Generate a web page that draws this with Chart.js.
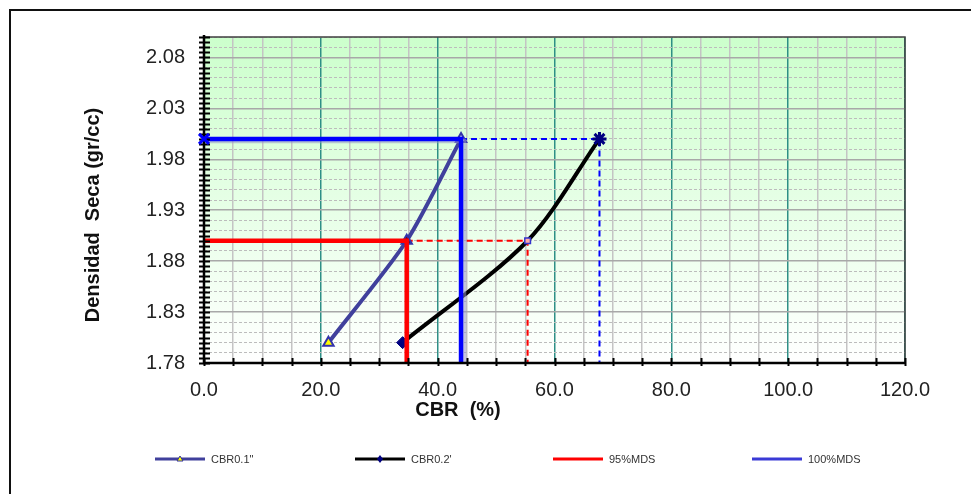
<!DOCTYPE html>
<html>
<head>
<meta charset="utf-8">
<script src="https://cdn.jsdelivr.net/npm/chart.js@4.4.1/dist/chart.umd.min.js"></script>
<style>
  html, body { margin: 0; padding: 0; background: #fff; }
  #wrap { width: 971px; height: 494px; position: relative; }
</style>
</head>
<body>
<div id="wrap"><canvas id="cbrChart" width="971" height="494"></canvas></div>
<script>
// CBR vs dry density, per penetration
const cbr01 = [21.3, 34.7, 44.0];
const dens01 = [1.80, 1.90, 2.00];
const cbr02 = [34.0, 55.4, 67.7];
const dens02 = [1.80, 1.90, 2.00];

// MDS levels and the CBR read at each
const mds100 = 2.00;
const mds95 = 1.90;
const cbrAt100 = [44.0, 67.7];   // 0.1" , 0.2"
const cbrAt95 = [34.7, 55.4];

const yMin = 1.78, yMax = 2.10;
const xMin = 0, xMax = 120;
const xLabelStep = 20;

const FONT = "'Liberation Sans', Arial, sans-serif";

const pts = (xs, ys) => xs.map((x, i) => ({ x, y: ys[i] }));
const isMajorY = v => Math.round((v - yMin) * 100) % 5 === 0;

// background gradient, frame, axis tick marks, titles and legend
const decor = {
  id: "decor",
  beforeDraw(chart) {
    const { ctx, chartArea: a } = chart;
    const g = ctx.createLinearGradient(0, a.top, 0, a.bottom);
    g.addColorStop(0, "#ccffcc");
    g.addColorStop(1, "#ffffff");
    ctx.save();
    ctx.fillStyle = g;
    ctx.fillRect(a.left, a.top, a.right - a.left, a.bottom - a.top);
    ctx.restore();
  },
  beforeDatasetDraw(chart, args) {
    const ds = chart.data.datasets[args.index];
    if (ds.shadow) {
      chart.ctx.shadowColor = "rgba(150,150,200,0.55)";
      chart.ctx.shadowOffsetX = 3;
      chart.ctx.shadowOffsetY = 2;
      chart.ctx.shadowBlur = 0;
    }
  },
  afterDatasetDraw(chart) {
    chart.ctx.shadowColor = "rgba(0,0,0,0)";
    chart.ctx.shadowOffsetX = 0;
    chart.ctx.shadowOffsetY = 0;
  },
  afterDraw(chart) {
    const { ctx, chartArea: a, scales: { x, y } } = chart;
    ctx.save();

    // plot border top/right
    ctx.strokeStyle = "#404040";
    ctx.lineWidth = 1.5;
    ctx.beginPath();
    ctx.moveTo(a.left, a.top);
    ctx.lineTo(a.right, a.top);
    ctx.lineTo(a.right, a.bottom);
    ctx.stroke();

    // axes
    ctx.strokeStyle = "#000";
    ctx.lineWidth = 2.5;
    ctx.beginPath();
    ctx.moveTo(a.left, a.top - 2);
    ctx.lineTo(a.left, a.bottom);
    ctx.lineTo(a.right, a.bottom);
    ctx.stroke();

    // cross tick marks
    ctx.lineWidth = 2;
    ctx.beginPath();
    for (let i = 0; i <= Math.round((yMax - yMin) / 0.005); i++) {
      const py = Math.round(y.getPixelForValue(yMin + i * 0.005)) + 0.5;
      ctx.moveTo(a.left - 5, py);
      ctx.lineTo(a.left + 6, py);
    }
    for (let v = xMin; v <= xMax; v += 5) {
      const px = Math.round(x.getPixelForValue(v)) + 0.5;
      ctx.moveTo(px, a.bottom - 5);
      ctx.lineTo(px, a.bottom + 3);
    }
    ctx.stroke();

    // the 100% marker sits on the axis
    const m = chart.getDatasetMeta(0).data[0];
    ctx.strokeStyle = "#0000ff";
    ctx.lineWidth = 3;
    ctx.beginPath();
    ctx.moveTo(m.x - 5, m.y - 5);
    ctx.lineTo(m.x + 5, m.y + 5);
    ctx.moveTo(m.x - 5, m.y + 5);
    ctx.lineTo(m.x + 5, m.y - 5);
    ctx.stroke();

    // axis titles
    ctx.fillStyle = "#111";
    ctx.font = "bold 20px " + FONT;
    ctx.textAlign = "center";
    ctx.textBaseline = "middle";
    ctx.fillText("CBR  (%)", 458, 410);
    ctx.save();
    ctx.translate(93, 215);
    ctx.rotate(-Math.PI / 2);
    ctx.fillText("Densidad  Seca (gr/cc)", 0, 0);
    ctx.restore();

    // legend
    const items = [
      { text: 'CBR0.1"', color: "#40409c", x: 155, marker: "tri" },
      { text: "CBR0.2'", color: "#000000", x: 355, marker: "dia" },
      { text: "95%MDS", color: "#ff0000", x: 553 },
      { text: "100%MDS", color: "#3a3ad6", x: 752 }
    ];
    const ly = 459;
    ctx.font = "11px " + FONT;
    ctx.textAlign = "left";
    items.forEach(it => {
      ctx.strokeStyle = it.color;
      ctx.lineWidth = 3;
      ctx.beginPath();
      ctx.moveTo(it.x, ly);
      ctx.lineTo(it.x + 50, ly);
      ctx.stroke();
      const mx = it.x + 25;
      if (it.marker === "tri") {
        ctx.fillStyle = "#ffff00";
        ctx.strokeStyle = "#333399";
        ctx.lineWidth = 1;
        ctx.beginPath();
        ctx.moveTo(mx, ly - 3);
        ctx.lineTo(mx + 3, ly + 2);
        ctx.lineTo(mx - 3, ly + 2);
        ctx.closePath();
        ctx.fill();
        ctx.stroke();
      } else if (it.marker === "dia") {
        ctx.fillStyle = "#000080";
        ctx.beginPath();
        ctx.moveTo(mx, ly - 4);
        ctx.lineTo(mx + 3, ly);
        ctx.lineTo(mx, ly + 4);
        ctx.lineTo(mx - 3, ly);
        ctx.closePath();
        ctx.fill();
      }
      ctx.fillStyle = "#333";
      ctx.fillText(it.text, it.x + 56, ly + 1);
    });

    // outer frame
    ctx.strokeStyle = "#111";
    ctx.lineWidth = 2;
    ctx.beginPath();
    ctx.moveTo(971, 10);
    ctx.lineTo(10, 10);
    ctx.lineTo(10, 494);
    ctx.stroke();

    ctx.restore();
  }
};

const datasets = [
  {
    label: "100%MDS",
    data: [{ x: xMin, y: mds100 }, { x: cbrAt100[0], y: mds100 }, { x: cbrAt100[0], y: yMin }],
    borderColor: "#0000ff",
    borderWidth: 4.5,
    borderJoinStyle: "miter",
    pointRadius: 0,
    shadow: true
  },
  {
    label: "95%MDS",
    data: [{ x: xMin, y: mds95 }, { x: cbrAt95[0], y: mds95 }, { x: cbrAt95[0], y: yMin }],
    borderColor: "#ff0000",
    borderWidth: 4.5,
    borderJoinStyle: "miter",
    pointRadius: 0
  },
  {
    label: 'CBR0.1"',
    data: pts(cbr01, dens01),
    borderColor: "#40409c",
    borderWidth: 4,
    tension: 0.25,
    pointStyle: "triangle",
    pointRadius: 6,
    pointBackgroundColor: ["#ffff00", "#800000", "#c8c8f0"],
    pointBorderColor: "#3333aa",
    pointBorderWidth: 2
  },
  {
    label: "CBR0.2'",
    data: pts(cbr02, dens02),
    borderColor: "#000000",
    borderWidth: 4,
    tension: 0.3,
    pointStyle: ["rectRot", "rect", "star"],
    pointRadius: [6, 4, 7],
    pointBackgroundColor: ["#000080", "#ffaaaa", "#000080"],
    pointBorderColor: ["#000080", "#3333cc", "#000080"],
    pointBorderWidth: [1, 1.5, 3]
  },
  {
    label: "100%MDS b",
    data: [{ x: cbrAt100[0], y: mds100 }, { x: cbrAt100[1], y: mds100 }, { x: cbrAt100[1], y: yMin }],
    borderColor: "#0000ff",
    borderWidth: 2,
    borderDash: [6, 4],
    pointRadius: 0
  },
  {
    label: "95%MDS b",
    data: [{ x: cbrAt95[0], y: mds95 }, { x: cbrAt95[1], y: mds95 }, { x: cbrAt95[1], y: yMin }],
    borderColor: "#ff0000",
    borderWidth: 2,
    borderDash: [6, 4],
    pointRadius: 0
  }
];

new Chart(document.getElementById("cbrChart"), {
  type: "scatter",
  data: { datasets: datasets.map(d => Object.assign({ showLine: true, fill: false }, d)) },
  plugins: [decor],
  options: {
    responsive: false,
    animation: false,
    layout: { padding: { left: 0, top: 37, right: 66, bottom: 0 } },
    plugins: { legend: { display: false }, tooltip: { enabled: false } },
    scales: {
      x: {
        type: "linear",
        min: xMin,
        max: xMax,
        afterFit: s => { s.height = 131; },
        afterBuildTicks: s => {
          const t = [];
          for (let v = xMin; v <= xMax; v += 5) t.push({ value: v });
          s.ticks = t;
        },
        ticks: {
          autoSkip: false,
          maxRotation: 0,
          padding: 15,
          color: "#222",
          font: { family: FONT, size: 20 },
          callback: v => (v % xLabelStep === 0 ? v.toFixed(1) : "")
        },
        grid: {
          drawTicks: false,
          color: c => (c.tick && c.tick.value % xLabelStep === 0 ? "#2e8f86" : "#c4c4c4"),
          lineWidth: 1.5
        },
        border: { display: false }
      },
      y: {
        type: "linear",
        min: yMin,
        max: yMax,
        afterFit: s => { s.width = 204; },
        afterBuildTicks: s => {
          const t = [];
          for (let i = 0; i <= Math.round((yMax - yMin) * 100); i++) {
            t.push({ value: Math.round((yMin + i * 0.01) * 100) / 100 });
          }
          s.ticks = t;
        },
        ticks: {
          autoSkip: false,
          padding: 19,
          color: "#222",
          font: { family: FONT, size: 20 },
          callback: v => (isMajorY(v) ? v.toFixed(2) : "")
        },
        grid: {
          drawTicks: false,
          color: c => (c.tick && isMajorY(c.tick.value) ? "#a8a8a8" : "#bcbcbc"),
          lineWidth: c => (c.tick && isMajorY(c.tick.value) ? 1.5 : 1)
        },
        border: {
          display: false,
          dash: c => (c.tick && !isMajorY(c.tick.value) ? [3, 2] : [])
        }
      }
    }
  }
});
</script>
</body>
</html>
